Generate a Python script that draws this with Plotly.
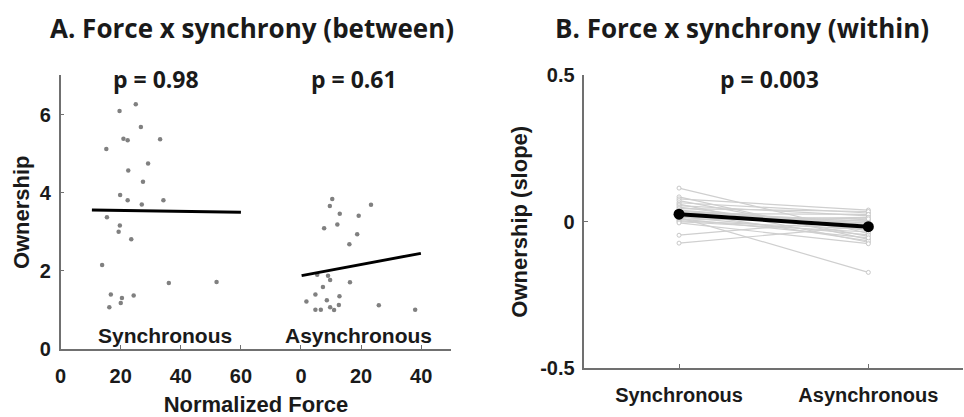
import plotly.graph_objects as go

# ---- Panel A: ownership vs normalized force, per synchrony condition ----
sync_force = [25.0, 19.6, 26.7, 20.9, 22.3, 33.1, 15.2, 29.1, 22.5, 27.4, 19.8, 22.3, 27.0,
              34.2, 15.4, 19.7, 19.3, 23.5, 13.8, 16.7, 20.4, 24.3, 20.0, 16.2, 36.0, 51.9]
sync_own = [6.26, 6.09, 5.68, 5.38, 5.34, 5.37, 5.12, 4.75, 4.57, 4.28, 3.94, 3.81, 3.70,
            3.81, 3.37, 3.16, 3.00, 2.81, 2.15, 1.40, 1.31, 1.37, 1.18, 1.07, 1.69, 1.72]

async_force = [10.4, 9.6, 23.3, 12.9, 19.2, 12.1, 7.7, 18.7, 16.1, 5.4, 9.0, 9.7, 16.3,
               7.3, 4.8, 12.8, 1.8, 8.6, 12.6, 9.7, 11.0, 4.8, 6.6, 25.9, 38.0]
async_own = [3.84, 3.66, 3.69, 3.46, 3.41, 3.19, 3.09, 2.94, 2.68, 1.90, 1.88, 1.77, 1.71,
             1.59, 1.40, 1.35, 1.22, 1.25, 1.13, 1.07, 1.00, 1.01, 1.01, 1.12, 1.01]

# least-squares fit lines (endpoints in force units)
sync_fit_x = [10.4, 60.0]
sync_fit_y = [3.56, 3.50]
async_fit_x = [0.2, 39.9]
async_fit_y = [1.88, 2.45]

p_between = ["p = 0.98", "p = 0.61"]
force_ticks = [0, 20, 40, 60, 0, 20, 40]

# ---- Panel B: within-subject ownership slopes ----
conditions = ["Synchronous", "Asynchronous"]
slope_sync = [0.115, 0.085, 0.078, 0.072, 0.065, 0.060, 0.055, 0.050, 0.045, 0.040, 0.036, 0.032, 0.028,
              0.024, 0.020, 0.017, 0.014, 0.010, 0.006, 0.003, 0.000, -0.004, 0.015, -0.046, -0.073, 0.035]
slope_async = [-0.040, -0.060, 0.040, -0.050, 0.030, -0.070, 0.020, -0.030, 0.035, -0.010, 0.000, -0.065, 0.025,
               -0.020, 0.010, -0.045, 0.005, -0.055, 0.015, -0.025, -0.035, -0.075, -0.173, 0.010, -0.015, -0.005]
slope_mean = [0.026, -0.017]
p_within = "p = 0.003"

ASYNC_OFFSET = 80  # async cluster shares the axis, shifted right

AXIS_COL = "#707070"
TXT_COL = "#1a1a1a"
TICK_FONT = dict(family="Liberation Sans", size=20, color=TXT_COL, weight="bold")
HEAD_FONT = "Open Sans"

fig = go.Figure()

fig.add_trace(go.Scatter(x=sync_force, y=sync_own, mode="markers",
                         marker=dict(size=4.5, color="#808080"), xaxis="x", yaxis="y", showlegend=False))
fig.add_trace(go.Scatter(x=[v + ASYNC_OFFSET for v in async_force], y=async_own, mode="markers",
                         marker=dict(size=4.5, color="#808080"), xaxis="x", yaxis="y", showlegend=False))
fig.add_trace(go.Scatter(x=sync_fit_x, y=sync_fit_y, mode="lines",
                         line=dict(color="black", width=3), xaxis="x", yaxis="y", showlegend=False))
fig.add_trace(go.Scatter(x=[v + ASYNC_OFFSET for v in async_fit_x], y=async_fit_y, mode="lines",
                         line=dict(color="black", width=3), xaxis="x", yaxis="y", showlegend=False))

for s, a in zip(slope_sync, slope_async):
    fig.add_trace(go.Scatter(x=[1, 2], y=[s, a], mode="lines+markers",
                             line=dict(color="#cfcfcf", width=1.2),
                             marker=dict(size=4, color="white", line=dict(color="#c8c8c8", width=1)),
                             xaxis="x2", yaxis="y2", showlegend=False))
fig.add_trace(go.Scatter(x=[1, 2], y=slope_mean, mode="lines+markers",
                         line=dict(color="black", width=4), marker=dict(size=11, color="black"),
                         xaxis="x2", yaxis="y2", showlegend=False))

common_axis = dict(showline=True, linecolor=AXIS_COL, linewidth=1.5, ticks="inside", ticklen=4,
                   tickcolor=AXIS_COL, showgrid=False, zeroline=False, tickfont=TICK_FONT)
title_font = dict(family="Liberation Sans", size=22, color=TXT_COL, weight="bold")

fig.update_layout(
    width=964, height=417, margin=dict(l=0, r=0, t=0, b=0),
    plot_bgcolor="white", paper_bgcolor="white",
    xaxis=dict(domain=[55 / 964, 448 / 964], range=[0, 130], tickvals=[0, 20, 40, 60, 80, 100, 120],
               ticktext=[str(t) for t in force_ticks], anchor="y", ticklabelstandoff=8,
               title=dict(text="Normalized Force", font=title_font, standoff=12), **common_axis),
    yaxis=dict(domain=[1 - 357 / 417, 1 - 68 / 417], range=[0, 7], tickvals=[0, 2, 4, 6], anchor="x",
               ticklabelstandoff=4,
               title=dict(text="Ownership", font=title_font, standoff=4), **common_axis),
    xaxis2=dict(domain=[582 / 964, 963 / 964], range=[0.5, 2.5], tickvals=[1, 2], ticktext=conditions,
                anchor="y2", ticklabelstandoff=8, **common_axis),
    yaxis2=dict(domain=[1 - 377 / 417, 1 - 68 / 417], range=[-0.5, 0.5], tickvals=[-0.5, 0, 0.5],
                ticktext=["-0.5", "0", "0.5"], anchor="x2", ticklabelstandoff=4,
                title=dict(text="Ownership (slope)", font=title_font, standoff=6), **common_axis),
)

head = dict(family=HEAD_FONT, size=26, color=TXT_COL, weight="bold")
pfont = dict(family=HEAD_FONT, size=23, color=TXT_COL, weight="bold")
ann = []
ann.append(dict(text="A. Force x synchrony (between)", x=248 / 964, y=1 - 18 / 417, xref="paper", yref="paper",
                showarrow=False, font=head, xanchor="center", yanchor="middle"))
ann.append(dict(text="B. Force x synchrony (within)", x=741 / 964, y=1 - 18 / 417, xref="paper", yref="paper",
                showarrow=False, font=head, xanchor="center", yanchor="middle"))
for txt, xc in zip(p_between, [151, 350]):
    ann.append(dict(text=txt, x=xc / 964, y=1 - 72 / 417, xref="paper", yref="paper",
                    showarrow=False, font=pfont, xanchor="center", yanchor="middle"))
ann.append(dict(text=p_within, x=768 / 964, y=1 - 72 / 417, xref="paper", yref="paper",
                showarrow=False, font=pfont, xanchor="center", yanchor="middle"))
for txt, xc in zip(conditions, [34.7, 99.0]):
    ann.append(dict(text=txt, x=xc, y=0.36, xref="x", yref="y", showarrow=False,
                    xanchor="center", yanchor="middle",
                    font=dict(family="Liberation Sans", size=21, color=TXT_COL, weight="bold")))
fig.update_layout(annotations=ann)

fig.write_html("out.html")
